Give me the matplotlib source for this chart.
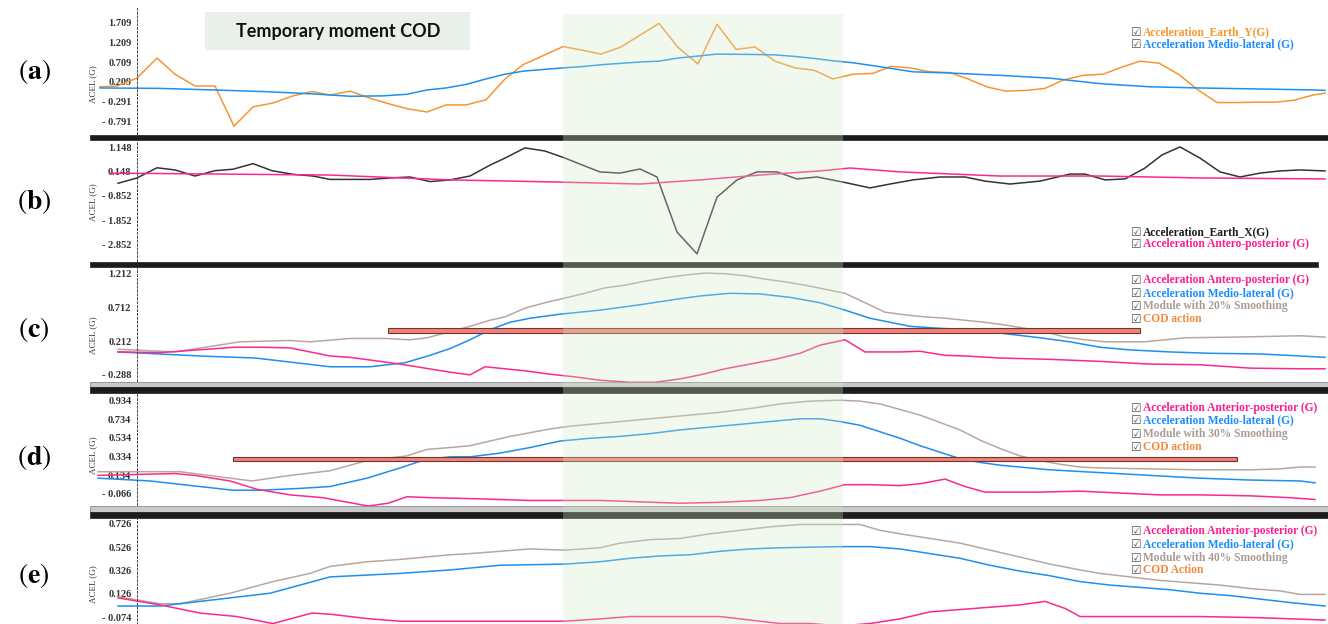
import matplotlib
matplotlib.use("Agg")
import matplotlib.pyplot as plt
from matplotlib import transforms
from matplotlib.patches import Rectangle

plt.rcParams["mathtext.fontset"] = "stix"

W, H = 1328, 624

# ── data (x = sample index, y = acceleration in G) ──────────────────────────
# (a)
a_earth_y_x = [0, 17, 37, 57, 75, 95, 115, 134, 153, 173, 193, 212, 230, 250, 270,
               290, 308, 327, 346, 366, 386, 405, 423, 443, 463, 482, 501, 520, 540,
               559, 578, 598, 617, 636, 655, 675, 695, 714, 733, 753, 773, 791, 810,
               830, 850, 868, 888, 906, 927, 945, 963, 983, 1003, 1022, 1040, 1059,
               1079, 1097, 1117, 1137, 1157, 1176, 1194, 1213, 1225]
a_earth_y = [0.08, 0.10, 0.30, 0.81, 0.40, 0.10, 0.10, -0.92, -0.43, -0.33, -0.15,
             -0.04, -0.13, -0.03, -0.21, -0.36, -0.48, -0.56, -0.38, -0.38, -0.25,
             0.28, 0.64, 0.87, 1.10, 1.01, 0.91, 1.08, 1.39, 1.69, 1.08, 0.66, 1.67,
             1.03, 1.09, 0.73, 0.56, 0.50, 0.28, 0.40, 0.42, 0.60, 0.56, 0.46, 0.44,
             0.28, 0.07, -0.03, -0.01, 0.04, 0.25, 0.37, 0.40, 0.58, 0.73, 0.68,
             0.39, 0.02, -0.32, -0.32, -0.31, -0.31, -0.26, -0.13, -0.08]
a_ml_x = [0, 60, 113, 163, 213, 250, 283, 307, 327, 346, 366, 386, 405, 424, 463,
          481, 501, 540, 559, 578, 598, 617, 655, 675, 695, 714, 733, 753, 780, 813,
          850, 900, 950, 1000, 1050, 1100, 1170, 1213, 1225]
a_ml = [0.05, 0.04, 0.00, -0.04, -0.10, -0.16, -0.15, -0.11, 0.00, 0.05, 0.14, 0.28,
        0.40, 0.48, 0.56, 0.59, 0.64, 0.71, 0.73, 0.81, 0.86, 0.91, 0.90, 0.89, 0.85,
        0.80, 0.74, 0.69, 0.59, 0.46, 0.43, 0.37, 0.30, 0.16, 0.08, 0.05, 0.02, 0.00,
        -0.01]

# (b)
b_earth_x_x = [18, 37, 57, 75, 95, 115, 133, 153, 172, 193, 213, 230, 270, 290, 310,
               330, 350, 370, 390, 405, 425, 445, 465, 485, 500, 520, 540, 557, 577,
               597, 617, 637, 657, 677, 697, 717, 743, 770, 790, 813, 840, 865, 885,
               910, 940, 970, 985, 1005, 1025, 1045, 1062, 1080, 1100, 1120, 1140,
               1160, 1180, 1200, 1225]
b_earth_x = [-0.33, -0.11, 0.31, 0.22, -0.03, 0.19, 0.25, 0.48, 0.19, 0.04, -0.03,
             -0.17, -0.17, -0.11, -0.07, -0.26, -0.19, -0.03, 0.42, 0.71, 1.13, 1.00,
             0.71, 0.38, 0.14, 0.09, 0.26, -0.07, -2.34, -3.24, -0.90, -0.19, 0.14,
             0.14, -0.15, -0.07, -0.28, -0.52, -0.36, -0.19, -0.07, -0.07, -0.24,
             -0.36, -0.24, 0.05, 0.05, -0.19, -0.15, 0.30, 0.84, 1.17, 0.71, 0.14,
             -0.07, 0.09, 0.18, 0.22, 0.18]
b_ap_x = [10, 230, 350, 460, 540, 600, 660, 720, 750, 800, 900, 1000, 1100, 1225]
b_ap = [0.09, 0.01, -0.19, -0.28, -0.36, -0.19, 0.01, 0.18, 0.30, 0.14, -0.03, -0.03,
        -0.11, -0.15]

# (c)
c_mod_x = [18, 75, 140, 190, 210, 250, 285, 310, 327, 350, 370, 390, 405, 425, 445,
           465, 485, 505, 525, 545, 565, 585, 605, 625, 645, 665, 685, 705, 725, 745,
           765, 785, 805, 825, 845, 865, 885, 905, 925, 945, 965, 985, 1005, 1045,
           1085, 1135, 1200, 1225]
c_mod = [0.09, 0.05, 0.20, 0.22, 0.20, 0.25, 0.25, 0.23, 0.26, 0.35, 0.43, 0.52, 0.57,
         0.70, 0.78, 0.85, 0.92, 1.00, 1.04, 1.10, 1.15, 1.19, 1.22, 1.21, 1.18, 1.13,
         1.09, 1.04, 0.98, 0.92, 0.78, 0.64, 0.60, 0.57, 0.55, 0.52, 0.49, 0.45, 0.40,
         0.35, 0.27, 0.23, 0.20, 0.20, 0.26, 0.27, 0.29, 0.27]
c_ml_x = [18, 100, 155, 190, 230, 270, 305, 330, 350, 370, 390, 410, 430, 460, 500,
          540, 580, 600, 630, 660, 690, 720, 745, 770, 790, 810, 840, 870, 900, 940,
          970, 1000, 1030, 1070, 1110, 1160, 1200, 1225]
c_ml = [0.05, -0.01, -0.04, -0.10, -0.17, -0.17, -0.11, 0.00, 0.10, 0.23, 0.38, 0.49,
        0.55, 0.61, 0.67, 0.75, 0.84, 0.88, 0.92, 0.91, 0.86, 0.78, 0.67, 0.55, 0.49,
        0.43, 0.40, 0.38, 0.33, 0.26, 0.20, 0.12, 0.08, 0.05, 0.03, 0.02, -0.01, -0.03]
c_ap_x = [18, 60, 135, 160, 190, 230, 250, 300, 350, 370, 385, 405, 425, 450, 475, 500,
          530, 555, 580, 600, 625, 650, 675, 700, 720, 745, 765, 780, 800, 820, 845,
          865, 900, 950, 1000, 1050, 1100, 1150, 1200, 1225]
c_ap = [0.05, 0.04, 0.12, 0.12, 0.11, -0.01, -0.03, -0.13, -0.25, -0.29, -0.17, -0.20,
        -0.23, -0.28, -0.32, -0.37, -0.40, -0.40, -0.35, -0.29, -0.20, -0.13, -0.06,
        0.03, 0.15, 0.23, 0.05, 0.05, 0.05, 0.06, 0.00, -0.01, -0.04, -0.06, -0.09,
        -0.13, -0.14, -0.19, -0.20, -0.20]
c_cod = (288, 1040, 0.365)  # start, end, level

# (d)
d_mod_x = [-2, 80, 152, 190, 230, 267, 307, 327, 350, 370, 390, 410, 430, 450, 470,
           500, 530, 560, 590, 620, 650, 680, 710, 740, 760, 780, 800, 820, 840, 860,
           880, 900, 920, 940, 960, 980, 1000, 1050, 1100, 1150, 1180, 1200, 1215]
d_mod = [0.17, 0.17, 0.07, 0.13, 0.18, 0.29, 0.34, 0.41, 0.43, 0.45, 0.50, 0.55, 0.59,
         0.63, 0.66, 0.69, 0.72, 0.75, 0.78, 0.81, 0.85, 0.90, 0.93, 0.94, 0.93, 0.90,
         0.84, 0.78, 0.70, 0.62, 0.51, 0.42, 0.34, 0.29, 0.25, 0.22, 0.21, 0.20, 0.19,
         0.19, 0.20, 0.22, 0.22]
d_ml_x = [-2, 50, 133, 160, 200, 230, 267, 300, 325, 350, 370, 400, 430, 460, 490, 520,
          550, 580, 610, 640, 670, 700, 720, 740, 760, 780, 800, 820, 840, 860, 880,
          900, 950, 1000, 1050, 1100, 1150, 1200, 1215]
d_ml = [0.10, 0.07, -0.03, -0.03, -0.01, 0.01, 0.10, 0.21, 0.30, 0.33, 0.33, 0.37,
        0.43, 0.50, 0.53, 0.55, 0.58, 0.62, 0.65, 0.68, 0.71, 0.74, 0.74, 0.71, 0.67,
        0.60, 0.53, 0.45, 0.38, 0.31, 0.27, 0.24, 0.19, 0.16, 0.13, 0.10, 0.08, 0.07,
        0.05]
d_ap_x = [-2, 75, 95, 130, 157, 190, 223, 268, 288, 307, 330, 370, 430, 500, 580, 620,
          660, 690, 720, 745, 770, 800, 820, 845, 865, 885, 940, 980, 1020, 1060, 1100,
          1150, 1190, 1215]
d_ap = [0.13, 0.15, 0.13, 0.07, -0.02, -0.08, -0.11, -0.20, -0.17, -0.10, -0.11,
        -0.12, -0.14, -0.14, -0.17, -0.16, -0.14, -0.11, -0.04, 0.03, 0.03, 0.02, 0.04,
        0.09, 0.01, -0.05, -0.05, -0.04, -0.06, -0.08, -0.08, -0.09, -0.11, -0.13]
d_cod = (133, 1137, 0.308)

# (e)
e_mod_x = [18, 60, 80, 130, 173, 210, 230, 267, 300, 350, 370, 400, 430, 465, 500, 520,
           550, 580, 610, 640, 670, 700, 740, 760, 780, 800, 830, 860, 890, 920, 950,
           980, 1000, 1030, 1060, 1090, 1120, 1150, 1180, 1200, 1225]
e_mod = [0.10, 0.04, 0.04, 0.13, 0.23, 0.30, 0.36, 0.40, 0.42, 0.46, 0.47, 0.49, 0.51,
         0.50, 0.52, 0.56, 0.59, 0.60, 0.64, 0.67, 0.70, 0.72, 0.72, 0.72, 0.67, 0.64,
         0.60, 0.56, 0.50, 0.44, 0.38, 0.33, 0.30, 0.27, 0.24, 0.22, 0.20, 0.17, 0.15,
         0.12, 0.12]
e_ml_x = [18, 60, 100, 170, 230, 300, 350, 400, 465, 500, 530, 560, 590, 620, 650, 680,
          740, 770, 800, 830, 860, 890, 920, 950, 980, 1010, 1040, 1070, 1100, 1130,
          1160, 1190, 1225]
e_ml = [0.02, 0.02, 0.06, 0.13, 0.27, 0.30, 0.33, 0.37, 0.38, 0.40, 0.43, 0.45, 0.46,
        0.49, 0.51, 0.52, 0.53, 0.53, 0.51, 0.47, 0.43, 0.37, 0.32, 0.28, 0.23, 0.20,
        0.18, 0.16, 0.13, 0.11, 0.08, 0.05, 0.02]
e_ap_x = [18, 60, 100, 137, 173, 212, 230, 270, 300, 350, 465, 500, 530, 560, 590, 620,
          650, 680, 710, 740, 770, 800, 830, 860, 890, 920, 945, 965, 980, 1040, 1100,
          1160, 1225]
e_ap = [0.09, 0.03, -0.04, -0.07, -0.13, -0.04, -0.05, -0.09, -0.11, -0.11, -0.11,
        -0.09, -0.07, -0.07, -0.07, -0.07, -0.10, -0.13, -0.13, -0.15, -0.13, -0.09,
        -0.03, -0.01, 0.01, 0.03, 0.06, 0.00, -0.07, -0.07, -0.07, -0.08, -0.10]

ticks_a = [1.709, 1.209, 0.709, 0.209, -0.291, -0.791]
ticks_b = [1.148, 0.148, -0.852, -1.852, -2.852]
ticks_c = [1.212, 0.712, 0.212, -0.288]
ticks_d = [0.934, 0.734, 0.534, 0.334, 0.134, -0.066]
ticks_e = [0.726, 0.526, 0.326, 0.126, -0.074]

cod_window = (463, 743)

legend_a = ["Acceleration_Earth_Y(G)", "Acceleration Medio-lateral (G)"]
legend_b = ["Acceleration_Earth_X(G)", "Acceleration Antero-posterior (G)"]
legend_c = ["Acceleration Antero-posterior (G)", "Acceleration Medio-lateral (G)",
            "Module with 20% Smoothing", "COD action"]
legend_d = ["Acceleration Anterior-posterior (G)", "Acceleration Medio-lateral (G)",
            "Module with 30% Smoothing", "COD action"]
legend_e = ["Acceleration Anterior-posterior (G)", "Acceleration Medio-lateral (G)",
            "Module with 40% Smoothing", "COD Action"]

# ── colours ──────────────────────────────────────────────────────────────────
ORANGE = "#f7962f"
BLUE = "#1c8ff0"
PINK = "#fa2a8c"
MODULE = "#b9a79f"
BLACK = "#333333"
TXT_ORANGE = "#f5893a"
TXT_BLUE = "#1a8cff"
TXT_PINK = "#ff1a8c"
TXT_MODULE = "#a99b94"
COD_FACE = "#f2837a"
COD_EDGE = "#6e3531"

# ── layout (pixel boxes) ─────────────────────────────────────────────────────
X_LIM = (37, 1228)
panels = [
    dict(tag="a", top=8, bottom=134, ylim=(-1.118, 2.080), ticks=ticks_a,
         series=[(a_earth_y_x, a_earth_y, ORANGE), (a_ml_x, a_ml, BLUE)],
         cod=None, label_y=72, ylabel_y=84,
         legend=legend_a, legend_colors=[ORANGE, TXT_BLUE], legend_y=[32, 44]),
    dict(tag="b", top=141, bottom=261, ylim=(-3.534, 1.414), ticks=ticks_b,
         series=[(b_earth_x_x, b_earth_x, BLACK), (b_ap_x, b_ap, PINK)],
         cod=None, label_y=202, ylabel_y=202,
         legend=legend_b, legend_colors=["#1a1a1a", TXT_PINK], legend_y=[232, 244]),
    dict(tag="c", top=268, bottom=381, ylim=(-0.381, 1.295), ticks=ticks_c,
         series=[(c_mod_x, c_mod, MODULE), (c_ml_x, c_ml, BLUE), (c_ap_x, c_ap, PINK)],
         cod=(c_cod, 0.074), label_y=330, ylabel_y=335,
         legend=legend_c, legend_colors=[TXT_PINK, TXT_BLUE, TXT_MODULE, TXT_ORANGE],
         legend_y=[280, 293, 306, 319]),
    dict(tag="d", top=394, bottom=505, ylim=(-0.189, 1.007), ticks=ticks_d,
         series=[(d_mod_x, d_mod, MODULE), (d_ml_x, d_ml, BLUE), (d_ap_x, d_ap, PINK)],
         cod=(d_cod, 0.051), label_y=457, ylabel_y=455,
         legend=legend_d, legend_colors=[TXT_PINK, TXT_BLUE, TXT_MODULE, TXT_ORANGE],
         legend_y=[408, 420, 434, 447]),
    dict(tag="e", top=519, bottom=624, ylim=(-0.134, 0.767), ticks=ticks_e,
         series=[(e_mod_x, e_mod, MODULE), (e_ml_x, e_ml, BLUE), (e_ap_x, e_ap, PINK)],
         cod=None, label_y=575, ylabel_y=584,
         legend=legend_e, legend_colors=[TXT_PINK, TXT_BLUE, TXT_MODULE, TXT_ORANGE],
         legend_y=[531, 544, 558, 570]),
]


def box(left, top, right, bottom):
    return [left / W, 1 - bottom / H, (right - left) / W, (bottom - top) / H]


def tick_text(v):
    return f"- {abs(v):.3f}" if v < 0 else f"{v:.3f}"


fig = plt.figure(figsize=(W / 100, H / 100), dpi=100)
fig.patch.set_facecolor("white")

axes = []
for p in panels:
    ax = fig.add_axes(box(137, p["top"], W, p["bottom"]))
    ax.patch.set_alpha(0)
    ax.set_xlim(*X_LIM)
    ax.set_ylim(*p["ylim"])
    for xs, ys, col in p["series"]:
        ax.plot(xs, ys, color=col, linewidth=1.1, clip_on=False, zorder=2)
    if p["cod"] is not None:
        (x0, x1, lvl), h = p["cod"]
        ax.barh(lvl, x1 - x0, left=x0, height=h, color=COD_FACE,
                edgecolor=COD_EDGE, linewidth=0.8, zorder=3, clip_on=False)
    ax.set_xticks([])
    ax.set_yticks(p["ticks"])
    ax.set_yticklabels([tick_text(t) for t in p["ticks"]],
                       family="Liberation Serif", fontweight="bold",
                       fontsize=7.5, color="#333333")
    ax.tick_params(axis="y", length=0, pad=4)
    for s in ("top", "right", "bottom"):
        ax.spines[s].set_visible(False)
    ax.spines["left"].set_linestyle((0, (2, 2)))
    ax.spines["left"].set_linewidth(0.7)
    ax.spines["left"].set_color("#444444")
    ax.set_ylabel("ACEL (G)", family="Liberation Serif", fontsize=6.5, color="#333333")
    ax.yaxis.set_label_coords((97 - 137) / (W - 137),
                              (p["bottom"] - p["ylabel_y"]) / (p["bottom"] - p["top"]))

    # panel tag
    fig.text(34 / W, 1 - p["label_y"] / H, r"$(\mathbf{%s})$" % p["tag"],
             fontsize=20, ha="center", va="center")

    # legend with check boxes
    for name, col, ly in zip(p["legend"], p["legend_colors"], p["legend_y"]):
        fig.text(1136 / W, 1 - ly / H, "\u2611", family="DejaVu Sans", fontsize=8.5,
                 color="#555555", ha="center", va="center")
        fig.text(1143 / W, 1 - ly / H, name, family="Liberation Serif",
                 fontweight="bold", fontsize=8.3, color=col, ha="left", va="center")
    axes.append(ax)

# separator bars between panels
def bar(top, bottom, color, right=1322, edge=None):
    fig.add_artist(Rectangle((90 / W, 1 - bottom / H), (right - 90) / W,
                             (bottom - top) / H, transform=fig.transFigure,
                             facecolor=color, edgecolor=edge or color,
                             linewidth=0.5, zorder=1))

bar(135, 140, "#1c1c1c", right=W)
bar(262, 267, "#1c1c1c", right=1318)
bar(382, 387, "#c9c9c9", right=W, edge="#7a7a7a")
bar(387, 393, "#1c1c1c", right=W)
bar(506, 512, "#c9c9c9", right=W, edge="#7a7a7a")
bar(512, 518, "#1c1c1c", right=W)

# shaded window of the change of direction
trans = transforms.blended_transform_factory(axes[0].transData, fig.transFigure)
fig.add_artist(Rectangle((cod_window[0], 0), cod_window[1] - cod_window[0],
                         1 - 14 / H, transform=trans, facecolor="#d3e9c8",
                         edgecolor="none", alpha=0.3, zorder=5))

# title box
fig.add_artist(Rectangle(((205) / W, 1 - 50 / H), (470 - 205) / W, 38 / H,
                         transform=fig.transFigure, facecolor="#e9f0ea",
                         edgecolor="none", zorder=6))
fig.text(338 / W, 1 - 32 / H, "Temporary moment COD", family="Lato",
         fontweight="bold", fontsize=13, color="#111111",
         ha="center", va="center", zorder=7)

fig.savefig("out.png", dpi=100)
